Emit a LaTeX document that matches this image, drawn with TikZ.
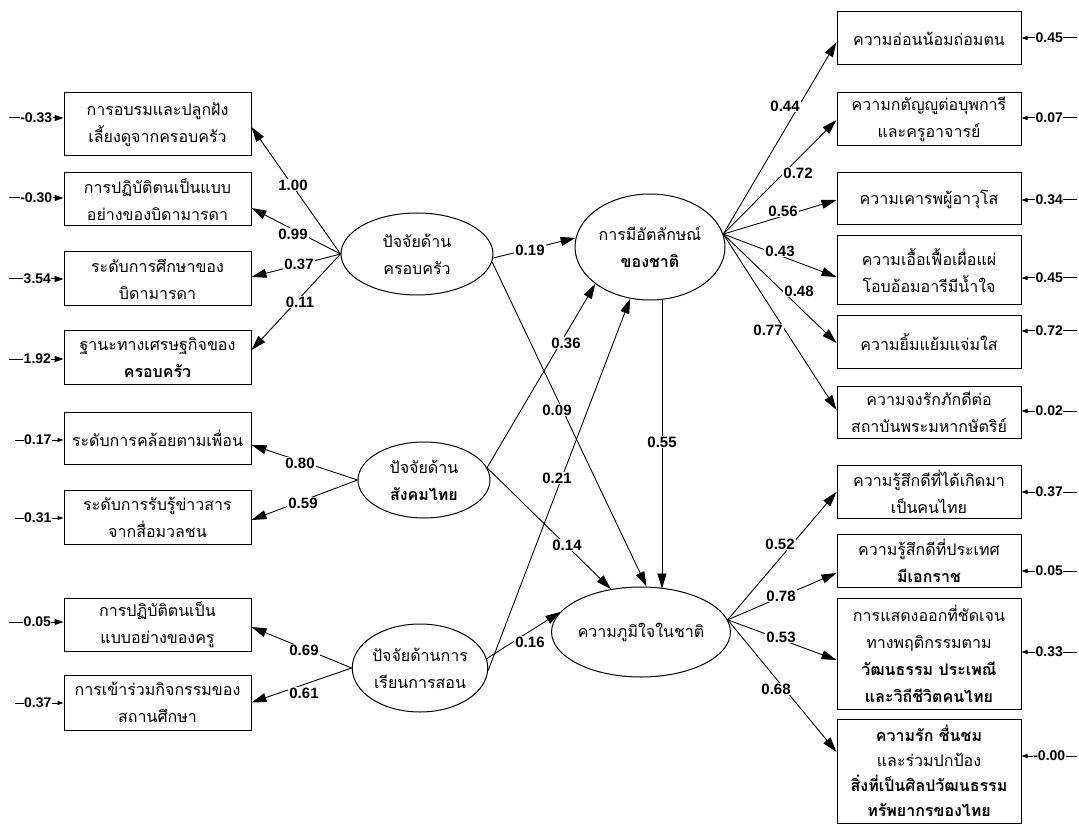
\documentclass[tikz,border=0pt]{standalone}
\usepackage{fontspec}
\setmainfont{Liberation Sans}
\newfontfamily\thai[Script=Thai]{Loma}
\usetikzlibrary{shapes.geometric,arrows.meta,calc}
\begin{document}
\begin{tikzpicture}[x=1pt,y=-1pt,
  obs/.style={draw, line width=1pt, minimum width=187pt, inner sep=0pt, align=center,
    font=\thai\fontsize{16}{27}\selectfont},
  robs/.style={obs, minimum width=184pt},
  lat/.style={draw, ellipse, line width=1pt, inner sep=0pt, align=center,
    font=\thai\fontsize{16}{27}\selectfont},
  lnk/.style={line width=0.9pt, -{Triangle[length=15pt,width=9pt]}},
  elnk/.style={line width=1pt, -{Triangle[length=9pt,width=6pt]}},
  eslnk/.style={line width=1pt, -{Triangle[length=6pt,width=4pt]}},
  lab/.style={fill=white, inner sep=1pt, font=\bfseries\fontsize{15}{15}\selectfont},
  elab/.style={fill=white, inner sep=0.5pt, font=\bfseries\fontsize{14}{14}\selectfont}
]
\useasboundingbox (0,0) rectangle (1079,826);

% left observed boxes
\node[obs,minimum height=63pt] (B1) at (157.5,124.5) {การอบรมและปลูกฝัง\\เลี้ยงดูจากครอบครัว};
\node[obs,minimum height=53pt] (B2) at (157.5,199.5) {การปฏิบัติตนเป็นแบบ\\อย่างของบิดามารดา};
\node[obs,minimum height=54pt] (B3) at (157.5,279) {ระดับการศึกษาของ\\บิดามารดา};
\node[obs,minimum height=53pt] (B4) at (157.5,357.5) {ฐานะทางเศรษฐกิจของ\\\textbf{ครอบครัว}};
\node[obs,minimum height=52pt] (B5) at (157.5,438) {ระดับการคล้อยตามเพื่อน};
\node[obs,minimum height=54pt] (B6) at (157.5,517) {ระดับการรับรู้ข่าวสาร\\จากสื่อมวลชน};
\node[obs,minimum height=53pt] (B7) at (157.5,624.5) {การปฏิบัติตนเป็น\\แบบอย่างของครู};
\node[obs,minimum height=55pt] (B8) at (157.5,702.5) {การเข้าร่วมกิจกรรมของ\\สถานศึกษา};

% latent ellipses
\node[lat,minimum width=152pt,minimum height=82pt] (E1) at (417,254) {ปัจจัยด้าน\\ครอบครัว};
\node[lat,minimum width=150pt,minimum height=106pt] (E2) at (650,247) {การมีอัตลักษณ์\\\textbf{ของชาติ}};
\node[lat,minimum width=132pt,minimum height=76pt] (E3) at (424,480) {ปัจจัยด้าน\\\textbf{สังคมไทย}};
\node[lat,minimum width=144pt,minimum height=90pt] (E4) at (641,632) {ความภูมิใจในชาติ};
\node[lat,minimum width=124pt,minimum height=88pt] (E5) at (420,668) {ปัจจัยด้านการ\\เรียนการสอน};

% right observed boxes
\node[robs,minimum height=53pt] (R1) at (929,38.5) {ความอ่อนน้อมถ่อมตน};
\node[robs,minimum height=53pt] (R2) at (929,119.5) {ความกตัญญูต่อบุพการี\\และครูอาจารย์};
\node[robs,minimum height=52pt] (R3) at (929,199) {ความเคารพผู้อาวุโส};
\node[robs,minimum height=69pt] (R4) at (929,270.5) {ความเอื้อเฟื้อเผื่อแผ่\\โอบอ้อมอารีมีน้ำใจ};
\node[robs,minimum height=52pt] (R5) at (929,342) {ความยิ้มแย้มแจ่มใส};
\node[robs,minimum height=52pt] (R6) at (929,412) {ความจงรักภักดีต่อ\\สถาบันพระมหากษัตริย์};
\node[robs,minimum height=53pt] (R7) at (929,491.5) {ความรู้สึกดีที่ได้เกิดมา\\เป็นคนไทย};
\node[robs,minimum height=53pt] (R8) at (929,560.5) {ความรู้สึกดีที่ประเทศ\\\textbf{มีเอกราช}};
\node[robs,minimum height=111pt] (R9) at (929,653.5) {การแสดงออกที่ชัดเจน\\ทางพฤติกรรมตาม\\\textbf{วัฒนธรรม ประเพณี}\\\textbf{และวิถีชีวิตคนไทย}};
\node[robs,minimum height=104pt,font=\thai\fontsize{16}{25}\selectfont] (R10) at (929,771) {\textbf{ความรัก ชื่นชม}\\และร่วมปกป้อง\\\textbf{สิ่งที่เป็นศิลปวัฒนธรรม}\\\textbf{ทรัพยากรของไทย}};

% loadings left
\draw[lnk] (E1.west) -- ([yshift=-2.5pt]B1.east);
\draw[lnk] (E1.west) -- ([yshift=-8.5pt]B2.east);
\draw[lnk] (E1.west) -- ([yshift=2pt]B3.east);
\draw[lnk] (E1.west) -- ([yshift=7.5pt]B4.east);
\draw[lnk] (E3.west) -- ([yshift=-7pt]B5.east);
\draw[lnk] (E3.west) -- ([yshift=-3pt]B6.east);
\draw[lnk] (E5.west) -- ([yshift=-2.5pt]B7.east);
\draw[lnk] (E5.west) -- (B8.east);

% structural paths
\draw[lnk] (E1.-3) -- (E2.173);
\draw[lnk] (E1.-6) -- (E4.83);
\draw[lnk] (E3.11) -- (E2.214);
\draw[lnk] (E3.11) -- (E4.125);
\draw[lnk] (E5.-2) -- (E2.249);
\draw[lnk] (E5.8) -- (E4.166);
\draw[lnk] ([xshift=12pt]E2.south) -- ([xshift=21pt,yshift=-2pt]E4.north);

% loadings right
\draw[lnk] (E2.10) -- ([yshift=-3.5pt]R1.west);
\draw[lnk] (E2.10) -- ([yshift=-0.5pt]R2.west);
\draw[lnk] (E2.10) -- ([yshift=-1pt]R3.west);
\draw[lnk] (E2.10) -- ([yshift=-6.5pt]R4.west);
\draw[lnk] (E2.10) -- ([yshift=-1pt]R5.west);
\draw[lnk] (E2.10) -- ([yshift=2pt]R6.west);
\draw[lnk] (E4.8) -- ([yshift=-0.5pt]R7.west);
\draw[lnk] (E4.8) -- ([yshift=-12.5pt]R8.west);
\draw[lnk] (E4.8) -- ([yshift=-6.5pt]R9.west);
\draw[lnk] (E4.8) -- ([yshift=19pt]R10.west);

% left error terms
\coordinate (eB1) at (9,118);
\coordinate (eB2) at (9,198);
\coordinate (eB3) at (9,279);
\coordinate (eB4) at (9,359);
\coordinate (eB5) at (15,440);
\coordinate (eB6) at (15,518);
\coordinate (eB7) at (9,622);
\coordinate (eB8) at (15,703);
\draw[elnk] (eB1) -- (eB1 -| B1.west) node[elab,pos=0.5] {-0.33};
\draw[elnk] (eB2) -- (eB2 -| B2.west) node[elab,pos=0.5] {-0.30};
\draw[elnk] (eB3) -- (eB3 -| B3.west) node[elab,pos=0.52] {3.54};
\draw[elnk] (eB4) -- (eB4 -| B4.west) node[elab,pos=0.52] {1.92};
\draw[eslnk] (eB5) -- (eB5 -| B5.west) node[elab,pos=0.47] {0.17};
\draw[eslnk] (eB6) -- (eB6 -| B6.west) node[elab,pos=0.47] {0.31};
\draw[elnk] (eB7) -- (eB7 -| B7.west) node[elab,pos=0.52] {0.05};
\draw[eslnk] (eB8) -- (eB8 -| B8.west) node[elab,pos=0.47] {0.37};

% right error terms
\coordinate (eR1) at (1077,38);
\coordinate (eR2) at (1077,118);
\coordinate (eR3) at (1077,200);
\coordinate (eR4) at (1077,278);
\coordinate (eR5) at (1077,331);
\coordinate (eR6) at (1077,411);
\coordinate (eR7) at (1077,492);
\coordinate (eR8) at (1077,571);
\coordinate (eR9) at (1077,652);
\coordinate (eR10) at (1077,756);
\draw[eslnk] (eR1) -- (eR1 -| R1.east) node[elab,pos=0.5] {0.45};
\draw[eslnk] (eR2) -- (eR2 -| R2.east) node[elab,pos=0.5] {0.07};
\draw[eslnk] (eR3) -- (eR3 -| R3.east) node[elab,pos=0.5] {0.34};
\draw[eslnk] (eR4) -- (eR4 -| R4.east) node[elab,pos=0.5] {0.45};
\draw[eslnk] (eR5) -- (eR5 -| R5.east) node[elab,pos=0.5] {0.72};
\draw[eslnk] (eR6) -- (eR6 -| R6.east) node[elab,pos=0.5] {0.02};
\draw[eslnk] (eR7) -- (eR7 -| R7.east) node[elab,pos=0.5] {0.37};
\draw[eslnk] (eR8) -- (eR8 -| R8.east) node[elab,pos=0.5] {0.05};
\draw[eslnk] (eR9) -- (eR9 -| R9.east) node[elab,pos=0.5] {0.33};
\draw[eslnk] (eR10) -- (eR10 -| R10.east) node[elab,pos=0.5] {-0.00};

% coefficient labels
\node[lab] (l100) at (293,185) {1.00};
\node[lab] (l099) at (293,234) {0.99};
\node[lab] (l037) at (299,264) {0.37};
\node[lab] (l011) at (300,302) {0.11};
\node[lab] (l080) at (300,463) {0.80};
\node[lab] (l059) at (303,503) {0.59};
\node[lab] (l069) at (304,650) {0.69};
\node[lab] (l061) at (304,693) {0.61};
\node[lab] (l019) at (530,250) {0.19};
\node[lab] (l009) at (557,410) {0.09};
\node[lab] (l036) at (566,343) {0.36};
\node[lab] (l021) at (557,478) {0.21};
\node[lab] (l014) at (567,545) {0.14};
\node[lab] (l016) at (530,642) {0.16};
\node[lab] (l055) at (662,442) {0.55};
\node[lab] (l044) at (785,106) {0.44};
\node[lab] (l072) at (798,173) {0.72};
\node[lab] (l056) at (783,211) {0.56};
\node[lab] (l043) at (780,251) {0.43};
\node[lab] (l048) at (799,291) {0.48};
\node[lab] (l077) at (768,330) {0.77};
\node[lab] (l052) at (780,544) {0.52};
\node[lab] (l078) at (781,596) {0.78};
\node[lab] (l053) at (781,637) {0.53};
\node[lab] (l068) at (776,689) {0.68};
\end{tikzpicture}
\end{document}
